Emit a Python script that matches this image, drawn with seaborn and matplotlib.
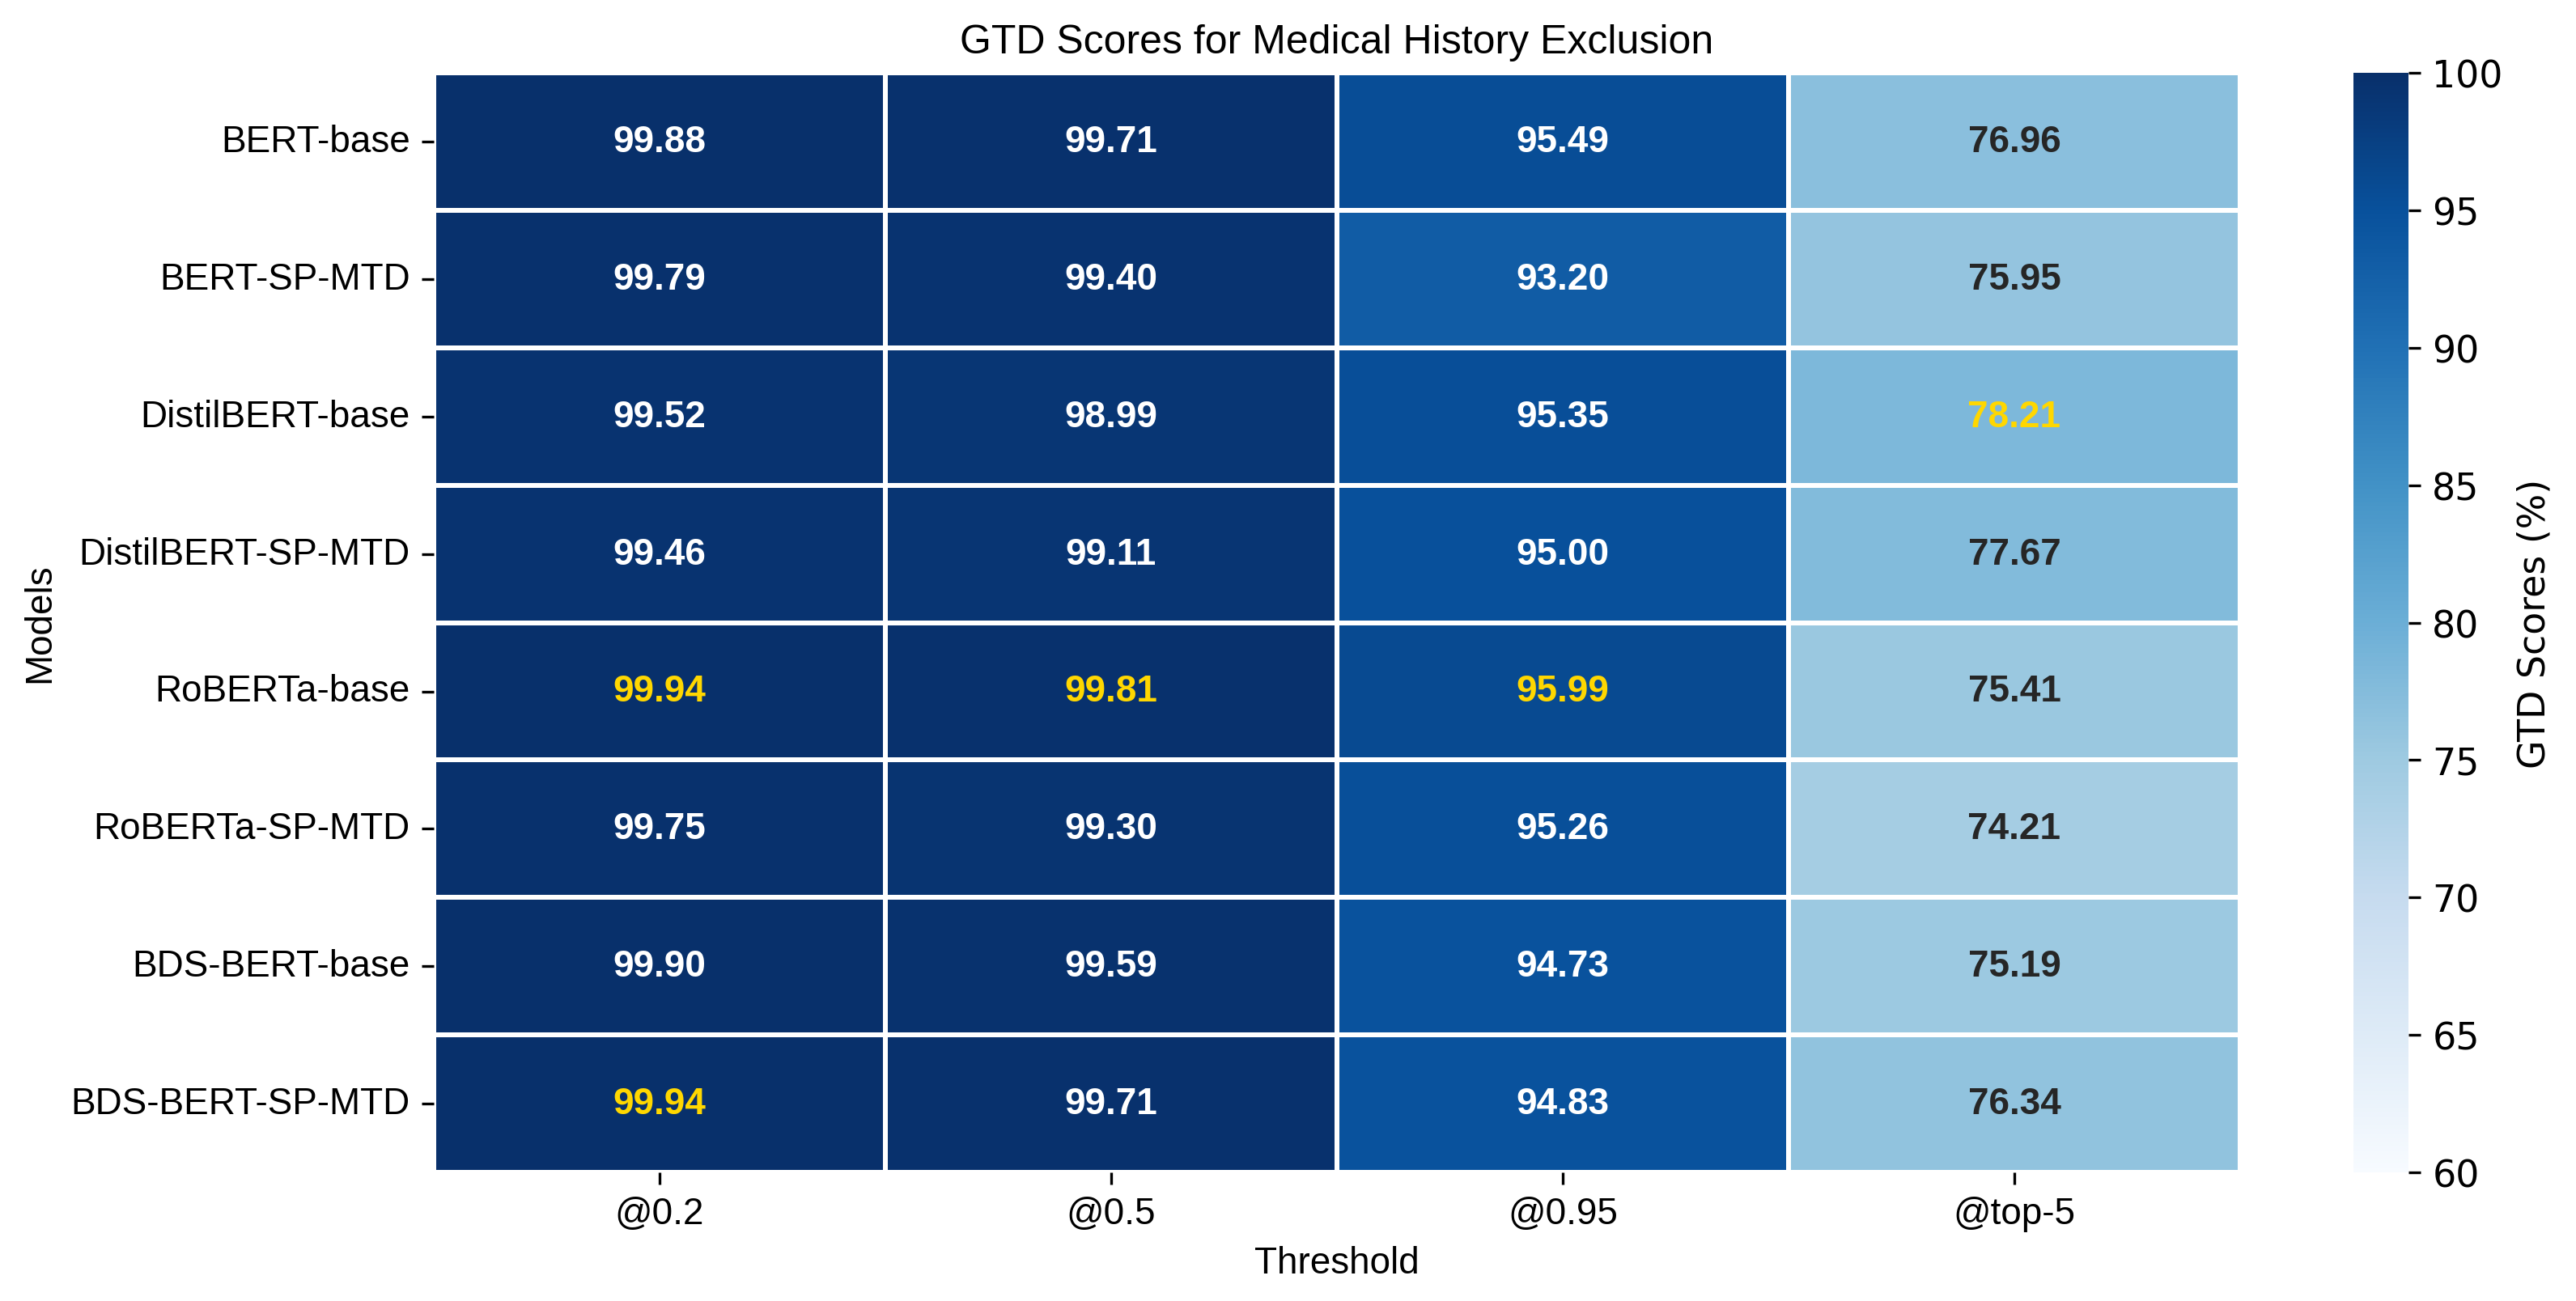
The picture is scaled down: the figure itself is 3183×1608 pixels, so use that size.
import numpy as np
import pandas as pd
import matplotlib
matplotlib.use("Agg")
import matplotlib.pyplot as plt
import seaborn as sns

# Data
models = ["BERT-base", "BERT-SP-MTD", "DistilBERT-base", "DistilBERT-SP-MTD",
          "RoBERTa-base", "RoBERTa-SP-MTD", "BDS-BERT-base", "BDS-BERT-SP-MTD"]
thresholds = ["@0.2", "@0.5", "@0.95", "@top-5"]
at_02 = [99.88, 99.79, 99.52, 99.46, 99.94, 99.75, 99.90, 99.94]
at_05 = [99.71, 99.40, 98.99, 99.11, 99.81, 99.30, 99.59, 99.71]
at_095 = [95.49, 93.20, 95.35, 95.00, 95.99, 95.26, 94.73, 94.83]
at_top5 = [76.96, 75.95, 78.21, 77.67, 75.41, 74.21, 75.19, 76.34]

df = pd.DataFrame({"@0.2": at_02, "@0.5": at_05, "@0.95": at_095, "@top-5": at_top5},
                  index=models)[thresholds]

plt.rcParams['font.family'] = ['Liberation Sans', 'DejaVu Sans']

fig = plt.figure(figsize=(10.61, 5.363), dpi=300)
ax = fig.add_axes([0.1684, 0.0988, 0.7012, 0.8446])
cax = fig.add_axes([0.9136, 0.0988, 0.0214, 0.8446])

sns.heatmap(df, ax=ax, cbar_ax=cax, cmap="Blues", vmin=60, vmax=100,
            annot=True, fmt=".2f", linewidths=1, linecolor="white",
            annot_kws={"size": 11, "weight": "bold"})

# highlight the best value per column in gold
col_max = df.max(axis=0).values
for txt in ax.texts:
    x, y = txt.get_position()
    i, j = int(y), int(x)
    if np.isclose(df.values[i, j], col_max[j]):
        txt.set_color("#FFD700")

ax.set_title("GTD Scores for Medical History Exclusion", fontsize=12)
ax.set_xlabel("Threshold", fontsize=11)
ax.set_ylabel("Models", fontsize=11)
ax.tick_params(axis="both", labelsize=11)
plt.setp(ax.get_yticklabels(), rotation=0)
plt.setp(ax.get_xticklabels(), rotation=0)

cax.tick_params(labelsize=11)
for lbl in cax.get_yticklabels():
    lbl.set_family("DejaVu Sans")
cax.set_ylabel("GTD Scores (%)", fontsize=11, family="DejaVu Sans")

fig.savefig("out.png", dpi=300)
plt.close()
